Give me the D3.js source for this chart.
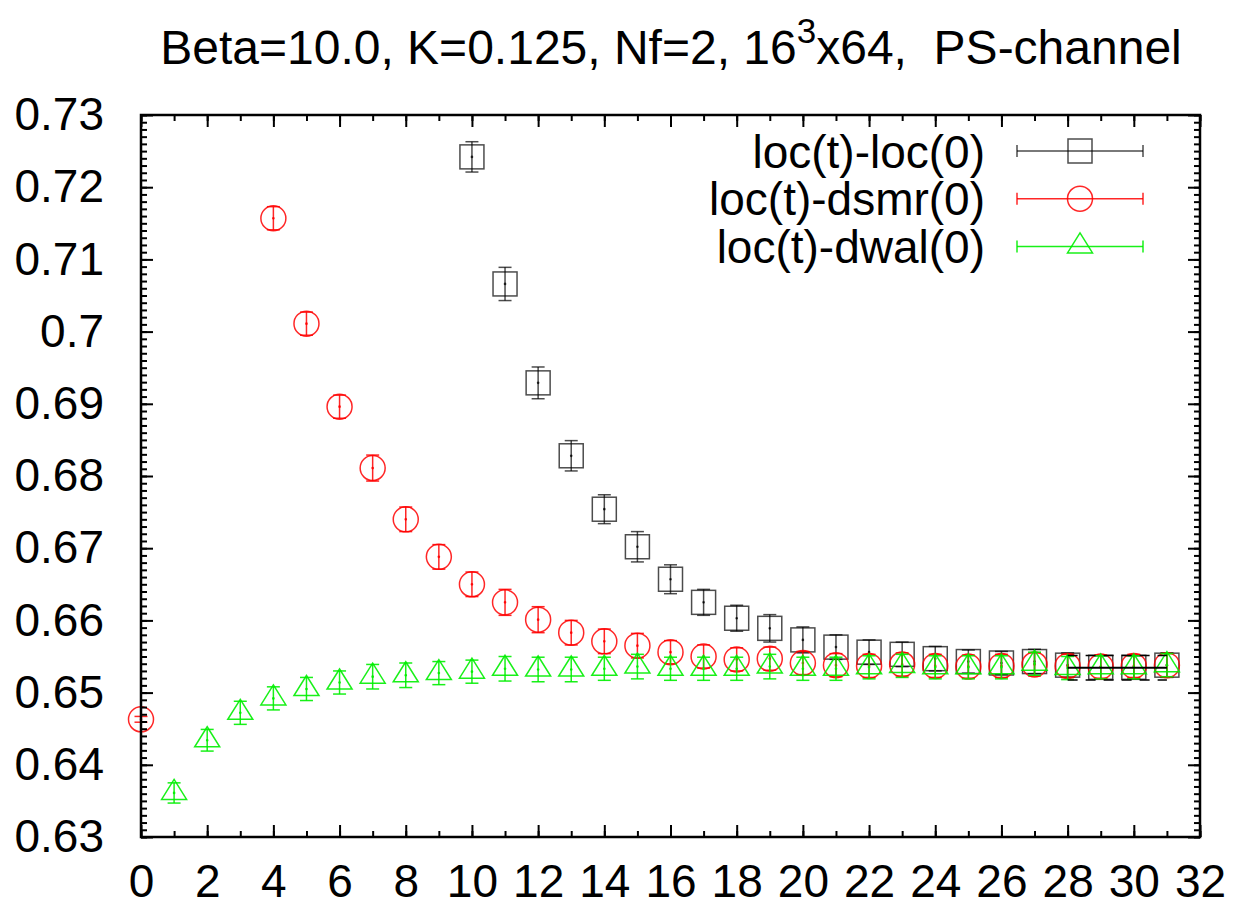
<!DOCTYPE html>
<html>
<head>
<meta charset="utf-8">
<script src="https://cdn.jsdelivr.net/npm/d3@7"></script>
<style>
  body { margin: 0; background: #fff; }
  svg { display: block; font-family: "Liberation Sans", Arial, Helvetica, sans-serif; }
</style>
</head>
<body>
<div id="chart"></div>
<script>
// t = 10..31
const tLoc = d3.range(10, 32);
const locLoc = [0.7242, 0.7066, 0.6929, 0.6828, 0.6754, 0.6702, 0.6657, 0.6625, 0.6603, 0.6589, 0.6573,
    0.6563, 0.6556, 0.6553, 0.6547, 0.6543, 0.6541, 0.6543, 0.6538, 0.6535, 0.6535, 0.6538];
const locLocErr = [0.0021, 0.0023, 0.0022, 0.0021, 0.0020, 0.0021, 0.0020, 0.0018, 0.0018, 0.0019, 0.0018,
    0.0017, 0.0017, 0.0017, 0.0017, 0.0016, 0.0016, 0.0017, 0.0017, 0.0016, 0.0016, 0.0017];

// t = 0, 4..31 (t = 1..3 lie above the plotted range)
const tDsmr = [0].concat(d3.range(4, 32));
const locDsmr = [0.6463, 0.7157, 0.7011, 0.6896, 0.6811, 0.6740, 0.6688, 0.6650, 0.6625, 0.6601, 0.6583,
    0.6571, 0.6565, 0.6556, 0.6550, 0.6546, 0.6547, 0.6541, 0.6538, 0.6537, 0.6539, 0.6537, 0.6536,
    0.6537, 0.6539, 0.6537, 0.6536, 0.6537, 0.6538];
const locDsmrErr = [0.0004, 0.0016, 0.0016, 0.0016, 0.0018, 0.0017, 0.0017, 0.0017, 0.0018, 0.0018, 0.0017,
    0.0017, 0.0017, 0.0016, 0.0016, 0.0016, 0.0016, 0.0016, 0.0016, 0.0016, 0.0016, 0.0016, 0.0016,
    0.0016, 0.0016, 0.0016, 0.0016, 0.0016, 0.0016];

// t = 1..31
const tDwal = d3.range(1, 32);
const locDwal = [0.6361, 0.6434, 0.6472, 0.6492, 0.6505, 0.6514, 0.6522, 0.6524, 0.6527, 0.6529, 0.6533,
    0.6532, 0.6532, 0.6533, 0.6536, 0.6533, 0.6533, 0.6533, 0.6536, 0.6533, 0.6533, 0.6535, 0.6537,
    0.6535, 0.6535, 0.6535, 0.6540, 0.6534, 0.6535, 0.6535, 0.6538];
const locDwalErr = [0.0014, 0.0015, 0.0016, 0.0016, 0.0016, 0.0016, 0.0017, 0.0017, 0.0016, 0.0016, 0.0017,
    0.0017, 0.0017, 0.0016, 0.0017, 0.0016, 0.0016, 0.0016, 0.0017, 0.0016, 0.0016, 0.0016, 0.0016,
    0.0016, 0.0016, 0.0016, 0.0016, 0.0016, 0.0016, 0.0016, 0.0016];

// plateau fit of loc(t)-loc(0)
const fitRange = [28, 31];
const fitValue = 0.65345;
const fitErr = 0.0017;

const seriesNames = ["loc(t)-loc(0)", "loc(t)-dsmr(0)", "loc(t)-dwal(0)"];
const xTicks = d3.range(0, 33, 2);
const yTicks = d3.range(63, 74).map(v => v / 100);

const W = 1241, H = 908;
const margin = { left: 141, top: 115, right: 41, bottom: 71 };
const width = W - margin.left - margin.right;
const height = H - margin.top - margin.bottom;
const fontSize = 46;

const svg = d3.select("#chart").append("svg")
    .attr("width", W)
    .attr("height", H)
    .attr("viewBox", [0, 0, W, H]);

const g = svg.append("g").attr("transform", `translate(${margin.left},${margin.top})`);

const x = d3.scaleLinear().domain([0, 32]).range([0, width]);
const y = d3.scaleLinear().domain([0.63, 0.73]).range([height, 0]);

// title
const title = svg.append("text")
    .attr("x", 671)
    .attr("y", 64)
    .attr("text-anchor", "middle")
    .attr("font-size", 48)
    .style("white-space", "pre");
title.append("tspan").text("Beta=10.0, K=0.125, Nf=2, 16");
title.append("tspan").attr("dy", -21).attr("font-size", 35).text("3");
title.append("tspan").attr("dy", 21).text("x64,  PS-channel");

// marker shapes
const markers = {
    square: (sel) => sel.append("rect")
        .attr("x", -12).attr("y", -12).attr("width", 24).attr("height", 24),
    circle: (sel) => sel.append("circle").attr("r", 12.5),
    triangle: (sel) => sel.append("path").attr("d", "M0,-13.5L12.5,6.5L-12.5,6.5Z")
};

function drawSeries(ts, vals, errs, color, shape, opacity) {
    const layer = g.append("g")
        .attr("fill", "none")
        .attr("stroke", color)
        .attr("stroke-width", 1.5)
        .attr("stroke-opacity", opacity);

    const pts = layer.selectAll("g.pt")
        .data(ts.map((t, i) => ({ t, v: vals[i], e: errs[i] })))
        .join("g")
        .attr("class", "pt");

    pts.append("line")
        .attr("x1", d => x(d.t)).attr("x2", d => x(d.t))
        .attr("y1", d => y(d.v - d.e)).attr("y2", d => y(d.v + d.e));
    pts.append("line")
        .attr("x1", d => x(d.t) - 6.5).attr("x2", d => x(d.t) + 6.5)
        .attr("y1", d => y(d.v - d.e)).attr("y2", d => y(d.v - d.e));
    pts.append("line")
        .attr("x1", d => x(d.t) - 6.5).attr("x2", d => x(d.t) + 6.5)
        .attr("y1", d => y(d.v + d.e)).attr("y2", d => y(d.v + d.e));

    const m = pts.append("g").attr("transform", d => `translate(${x(d.t)},${y(d.v)})`);
    markers[shape](m);
    m.append("circle").attr("r", 0.6).attr("fill", color);
}

drawSeries(tLoc, locLoc, locLocErr, "#000", "square", 0.7);
drawSeries(tDsmr, locDsmr, locDsmrErr, "#ff0000", "circle", 0.85);
drawSeries(tDwal, locDwal, locDwalErr, "#00ee00", "triangle", 0.9);

// fit line with error band
const fit = g.append("g").attr("stroke", "#000").attr("fill", "none");
fit.append("line")
    .attr("x1", x(fitRange[0])).attr("x2", x(fitRange[1]))
    .attr("y1", y(fitValue)).attr("y2", y(fitValue))
    .attr("stroke-width", 2);
[fitValue - fitErr, fitValue + fitErr].forEach(v => {
    fit.append("line")
        .attr("x1", x(fitRange[0])).attr("x2", x(fitRange[1]))
        .attr("y1", y(v)).attr("y2", y(v))
        .attr("stroke-width", 1.5)
        .attr("stroke-dasharray", "10,8");
});

// axes: ticks point inward, mirrored on all four sides
const yMinor = d3.range(630, 731).map(v => v / 1000);
const xMinor = d3.range(0, 33);

function styleAxis(sel) {
    sel.select(".domain").remove();
    sel.selectAll("line").attr("stroke", "#000").attr("stroke-width", 2);
    sel.selectAll("text").attr("font-size", fontSize).attr("fill", "#000");
}

g.append("g")
    .call(d3.axisLeft(y).tickValues(yMinor).tickSize(-6).tickFormat(""))
    .call(styleAxis);
g.append("g")
    .attr("transform", `translate(${width},0)`)
    .call(d3.axisRight(y).tickValues(yMinor).tickSize(-6).tickFormat(""))
    .call(styleAxis);
g.append("g")
    .call(d3.axisLeft(y).tickValues(yTicks).tickSize(-12).tickPadding(37)
        .tickFormat(d => String(+d.toFixed(2))))
    .call(styleAxis);
g.append("g")
    .attr("transform", `translate(${width},0)`)
    .call(d3.axisRight(y).tickValues(yTicks).tickSize(-12).tickFormat(""))
    .call(styleAxis);

g.append("g")
    .attr("transform", `translate(0,${height})`)
    .call(d3.axisBottom(x).tickValues(xMinor).tickSize(-6).tickFormat(""))
    .call(styleAxis);
g.append("g")
    .call(d3.axisTop(x).tickValues(xMinor).tickSize(-6).tickFormat(""))
    .call(styleAxis);
g.append("g")
    .attr("transform", `translate(0,${height})`)
    .call(d3.axisBottom(x).tickValues(xTicks).tickSize(-12).tickPadding(27))
    .call(styleAxis);
g.append("g")
    .call(d3.axisTop(x).tickValues(xTicks).tickSize(-12).tickFormat(""))
    .call(styleAxis);

// border
g.append("rect")
    .attr("width", width).attr("height", height)
    .attr("fill", "none").attr("stroke", "#000").attr("stroke-width", 2.5);

// legend
const legend = svg.append("g");
const legendRows = [
    { name: seriesNames[0], color: "#000", shape: "square", opacity: 0.7 },
    { name: seriesNames[1], color: "#ff0000", shape: "circle", opacity: 0.85 },
    { name: seriesNames[2], color: "#00ee00", shape: "triangle", opacity: 0.9 }
];
legendRows.forEach((r, i) => {
    const cy = 151 + i * 47.7;
    legend.append("text")
        .attr("x", 985).attr("y", cy + 16.5)
        .attr("text-anchor", "end")
        .attr("font-size", 46)
        .text(r.name);
    const s = legend.append("g")
        .attr("fill", "none").attr("stroke", r.color)
        .attr("stroke-width", 1.5).attr("stroke-opacity", r.opacity);
    s.append("line").attr("x1", 1017).attr("x2", 1143).attr("y1", cy).attr("y2", cy);
    s.append("line").attr("x1", 1017).attr("x2", 1017).attr("y1", cy - 6).attr("y2", cy + 6);
    s.append("line").attr("x1", 1143).attr("x2", 1143).attr("y1", cy - 6).attr("y2", cy + 6);
    const m = s.append("g").attr("transform", `translate(1080,${cy})`);
    markers[r.shape](m);
});
</script>
</body>
</html>
